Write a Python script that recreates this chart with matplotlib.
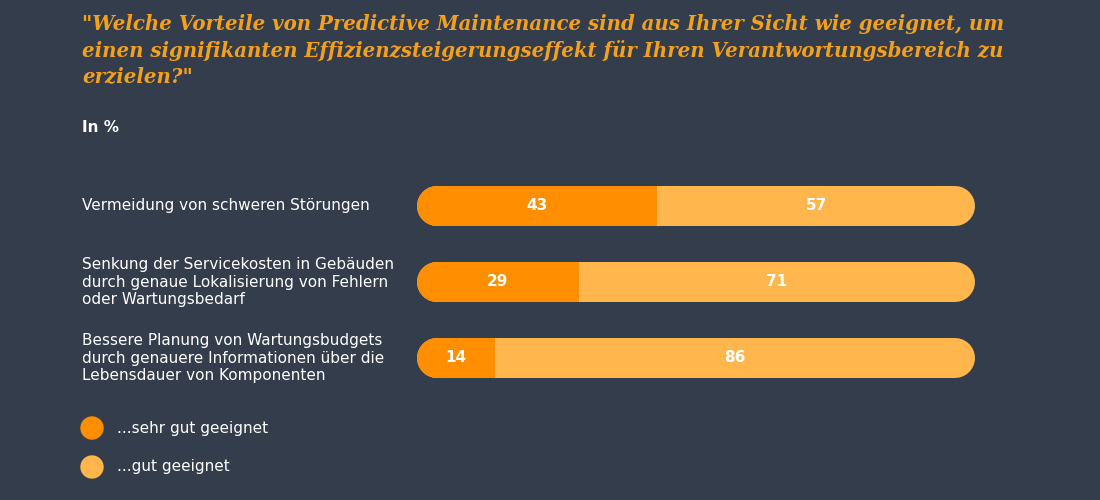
import matplotlib
matplotlib.use("Agg")
import matplotlib.pyplot as plt
from matplotlib.patches import Rectangle, Circle

categories = ["Vermeidung von schweren Störungen",
              "Senkung der Servicekosten in Gebäuden\ndurch genaue Lokalisierung von Fehlern\noder Wartungsbedarf",
              "Bessere Planung von Wartungsbudgets\ndurch genauere Informationen über die\nLebensdauer von Komponenten"]
sehr_gut = [43, 29, 14]
gut = [57, 71, 86]
legend_labels = ["...sehr gut geeignet", "...gut geeignet"]

BG = "#333d4b"; DARK = "#ff8f00"; LIGHT = "#ffb74d"; TITLE = "#f5a01a"
W, H = 1100, 500
fig = plt.figure(figsize=(11, 5), dpi=100, facecolor=BG)
ax = fig.add_axes([417/W, 0, 558/W, 1])
ax.set_xlim(0, 100); ax.set_ylim(H, 0); ax.axis("off")
r = 20 * 100 / 558
lw = 40 * 72 / 100
rows = [206, 282, 358]
for y, a, b in zip(rows, sehr_gut, gut):
    ax.plot([r, 100 - r], [y, y], color=LIGHT, lw=lw, solid_capstyle="round")
    ln, = ax.plot([r, a + r], [y, y], color=DARK, lw=lw, solid_capstyle="round")
    clip = Rectangle((0, y - 30), a, 60, transform=ax.transData)
    ln.set_clip_path(clip)
    ax.text(a / 2, y, str(a), color="white", ha="center", va="center", fontsize=11, fontweight="bold")
    ax.text(a + b / 2, y, str(b), color="white", ha="center", va="center", fontsize=11, fontweight="bold")

def ft(x, y, s, **kw):
    fig.text(x / W, 1 - y / H, s, **kw)

ft(82, 14, '"Welche Vorteile von Predictive Maintenance sind aus Ihrer Sicht wie geeignet, um\n'
   'einen signifikanten Effizienzsteigerungseffekt für Ihren Verantwortungsbereich zu\nerzielen?"',
   color=TITLE, fontsize=14.2, fontweight="bold", fontstyle="italic", family="DejaVu Serif",
   va="top", linespacing=1.35)
ft(82, 128, "In %", color="white", fontsize=11, fontweight="bold", va="center")
for y, c in zip(rows, categories):
    ft(82, y, c, color="white", fontsize=11, va="center", linespacing=1.2, fontweight="medium")
for y, lab, col in zip([428, 467], legend_labels, [DARK, LIGHT]):
    fig.patches.append(Circle((92 / W * 11, (1 - y / H) * 5), 0.11, color=col,
                              transform=fig.dpi_scale_trans))
    ft(117, y, lab, color="white", fontsize=11, va="center", fontweight="medium")
fig.savefig("out.png", facecolor=BG)
